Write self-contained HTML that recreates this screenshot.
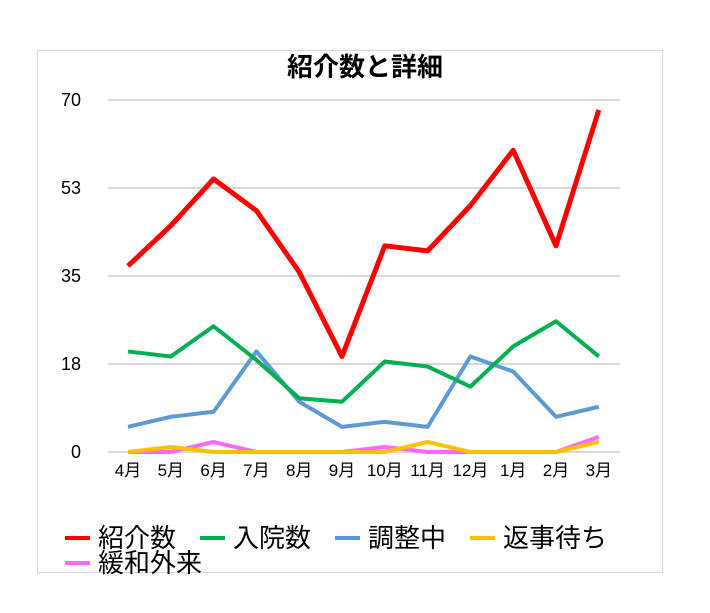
<!DOCTYPE html>
<html><head><meta charset="utf-8"><style>
body{margin:0;background:#fff;font-family:"Liberation Sans","Noto Sans CJK JP",sans-serif;}
</style></head><body>
<svg width="710" height="608" xmlns="http://www.w3.org/2000/svg" font-family="Liberation Sans, Noto Sans CJK JP, sans-serif">
<rect x="37.5" y="50.5" width="625" height="522" fill="#fff" stroke="#d9d9d9"/>
<text x="365" y="76" text-anchor="middle" font-size="26" font-weight="bold">紹介数と詳細</text>
<g id="grid"></g><g id="series"></g><g id="legend"></g>
</svg>
<script>
const categories=["4月","5月","6月","7月","8月","9月","10月","11月","12月","1月","2月","3月"];
const yTicks=[0,17.5,35,52.5,70];
const yTickLabels=["0","18","35","53","70"];
const seriesNames=["紹介数","入院数","調整中","返事待ち","緩和外来"];
const seriesColors=["#ff0000","#00b050","#5b9bd5","#ffc000","#ff66ff"];
const referral=[37,45,54.3,48,35.8,19,41,40,49,60,41,68];
const admitted=[20,19,25,18.3,10.7,10,18,17,13,21,26,19];
const adjusting=[5,7,8,20,10,5,6,5,19,16,7,9];
const waiting=[0,1,0,0,0,0,0,2,0,0,0,2];
const palliative=[0,0,2,0,0,0,1,0,0,0,0,3];
const NS="http://www.w3.org/2000/svg";
const x=i=>128+i*42.8;
const y=v=>452-v*(352/70);
const grid=document.getElementById('grid');
yTicks.forEach((t,i)=>{
 const l=document.createElementNS(NS,'line');
 
 
 l.setAttribute('x1',108);l.setAttribute('x2',620);l.setAttribute('y1',y(t));l.setAttribute('y2',y(t));
 l.setAttribute('stroke','#d9d9d9');l.setAttribute('stroke-width',2);grid.appendChild(l);
 const tx=document.createElementNS(NS,'text');
 
 
 tx.setAttribute('x',81);tx.setAttribute('y',y(t)+6);tx.setAttribute('text-anchor','end');tx.setAttribute('font-size',18);
 tx.textContent=yTickLabels[i];grid.appendChild(tx);
});
categories.forEach((c,i)=>{
 const tx=document.createElementNS(NS,'text');
 
 
 tx.setAttribute('x',x(i));tx.setAttribute('y',476);tx.setAttribute('text-anchor','middle');tx.setAttribute('font-size',17);
 tx.textContent=c;grid.appendChild(tx);
});
const data=[referral,admitted,adjusting,waiting,palliative];
const order=[4,3,2,1,0];
const sg=document.getElementById('series');
order.forEach(k=>{
 const p=document.createElementNS(NS,'polyline');
 
 
 p.setAttribute('points',data[k].map((v,i)=>x(i)+','+y(v)).join(' '));
 p.setAttribute('fill','none');p.setAttribute('stroke',seriesColors[k]);p.setAttribute('stroke-width',k==0?5:4);
 p.setAttribute('stroke-linejoin','round');sg.appendChild(p);
});
const lg=document.getElementById('legend');
const pos=[[65,538],[200,538],[335,538],[470,538],[65,563]];
seriesNames.forEach((n,k)=>{
 const l=document.createElementNS(NS,'line');
 
 
 l.setAttribute('x1',pos[k][0]);l.setAttribute('x2',pos[k][0]+25);l.setAttribute('y1',pos[k][1]);l.setAttribute('y2',pos[k][1]);
 l.setAttribute('stroke',seriesColors[k]);l.setAttribute('stroke-width',4);lg.appendChild(l);
 const t=document.createElementNS(NS,'text');
 
 
 t.setAttribute('x',pos[k][0]+33);t.setAttribute('y',pos[k][1]+9);t.setAttribute('font-size',26);
 t.textContent=n;lg.appendChild(t);
});
</script>
</body></html>
